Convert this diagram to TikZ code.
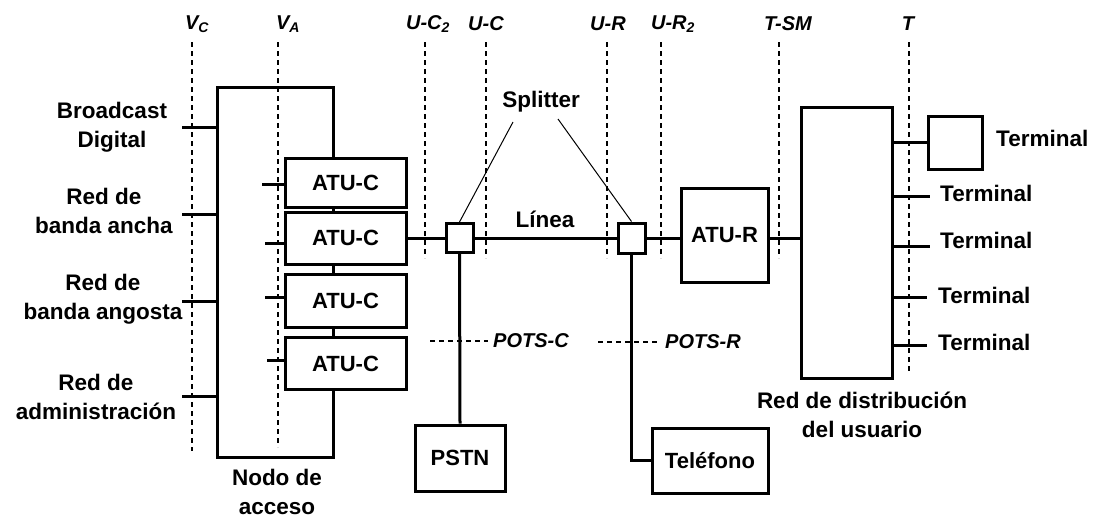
\documentclass[tikz,border=0pt]{standalone}
\usepackage{fontspec}
\setmainfont{Liberation Sans}
\begin{document}
\begin{tikzpicture}[x=1pt,y=-1pt,
  box/.style={draw, line width=3pt, fill=white, inner sep=0pt, font=\fontsize{22}{26}\selectfont\bfseries},
  frame/.style={draw, line width=3pt, inner sep=0pt},
  wire/.style={line width=3pt},
  refline/.style={line width=1.6pt, dash pattern=on 5pt off 4pt},
  lbl/.style={font=\fontsize{22.5}{29}\selectfont\bfseries, align=center, inner sep=0pt},
  ilbl/.style={font=\fontsize{20}{22}\selectfont\bfseries\itshape, inner sep=0pt},
  thinline/.style={line width=1pt}]
\useasboundingbox (0,0) rectangle (1105,520);
% reference points (dashed)
\foreach \x/\b in {192/451, 278/447, 425/258, 486/258, 607/258, 661/258, 779/258, 909/372}
  \draw[refline] (\x,42) -- (\x,\b);
\node[ilbl] (vc) at (197,24) {V\textsubscript{C}};
\node[ilbl] (va) at (288,24) {V\textsubscript{A}};
\node[ilbl] (uc2) at (428,24) {U-C\textsubscript{2}};
\node[ilbl] (uc) at (486,24) {U-C};
\node[ilbl] (ur) at (608,24) {U-R};
\node[ilbl] (ur2) at (673,24) {U-R\textsubscript{2}};
\node[ilbl] (tsm) at (788,24) {T-SM};
\node[ilbl] (tt) at (908,24) {T};
% access node
\node[frame, minimum width=116pt, minimum height=370pt] (nodo) at (275,272) {};
\node[lbl] (nodolbl) at (277,492) {Nodo de\\acceso};
% ATU-C boxes
\node[box, minimum width=121pt, minimum height=49pt] (atu1) at (345.5,182.5) {ATU-C};
\node[box, minimum width=121pt, minimum height=52pt] (atu2) at (345.5,238) {ATU-C};
\node[box, minimum width=121pt, minimum height=53pt] (atu3) at (345.5,300.5) {ATU-C};
\node[box, minimum width=121pt, minimum height=52pt] (atu4) at (345.5,363.5) {ATU-C};
\coordinate (s1) at (262,184);
\coordinate (s2) at (265,243);
\coordinate (s3) at (265,297);
\coordinate (s4) at (267,360);
\draw[wire] (s1) -- (s1 -| atu1.west);
\draw[wire] (s2) -- (s2 -| atu2.west);
\draw[wire] (s3) -- (s3 -| atu3.west);
\draw[wire] (s4) -- (s4 -| atu4.west);
% left inputs
\coordinate (l1) at (182,127);
\coordinate (l2) at (182,214);
\coordinate (l3) at (182,301);
\coordinate (l4) at (182,396);
\foreach \c in {l1,l2,l3,l4} \draw[wire] (\c) -- (\c -| nodo.west);
\node[lbl] (bd) at (112,127.5) {Broadcast\\Digital};
\node[lbl] (rba) at (104,210.5) {Red de\\banda ancha};
\node[lbl] (rbg) at (103,299.5) {Red de\\banda angosta};
\node[lbl] (radm) at (96,396.5) {Red de\\administración};
% splitters
\node[box, minimum width=27pt, minimum height=29pt] (splL) at (459.5,238) {};
\node[box, minimum width=27pt, minimum height=30pt] (splR) at (631.5,238) {};
\draw[wire] (atu2.east) -- (splL.west);
\draw[wire] (splL.east) -- (splR.west);
\node[lbl] (linea) at (545,219) {Línea};
\node[lbl] (spl) at (541,102) {Splitter};
\coordinate (spa) at (513,122);
\coordinate (spb) at (558,119);
\draw[thinline] (spa) -- (splL.north);
\draw[thinline] (spb) -- (splR.north);
% ATU-R
\node[box, minimum width=87pt, minimum height=94pt] (atur) at (724.5,235) {ATU-R};
\draw[wire] (splR.east) -- (splR.east -| atur.west);
% distribution network
\node[frame, minimum width=91pt, minimum height=271pt] (dist) at (846.5,242.5) {};
\draw[wire] (atur.east |- splR.east) -- (dist.west |- splR.east);
\node[lbl] (distlbl) at (862,415) {Red de distribución\\del usuario};
% terminals
\node[box, minimum width=54pt, minimum height=53pt] (term) at (955,142.5) {};
\draw[wire] (term.west -| dist.east) -- (term.west);
\node[lbl, anchor=west] (term0) at (996,138) {Terminal};
\coordinate (t1) at (930,196);
\coordinate (t2) at (930,246);
\coordinate (t3) at (927,297);
\coordinate (t4) at (927,345);
\foreach \c in {t1,t2,t3,t4} \draw[wire] (\c -| dist.east) -- (\c);
\node[lbl, anchor=west] (term1) at (940,193) {Terminal};
\node[lbl, anchor=west] (term2) at (940,240) {Terminal};
\node[lbl, anchor=west] (term3) at (938,295) {Terminal};
\node[lbl, anchor=west] (term4) at (938,342) {Terminal};
% POTS
\node[box, minimum width=90pt, minimum height=66pt] (pstn) at (460,458) {PSTN};
\node[box, minimum width=116pt, minimum height=65pt] (tel) at (710,460.5) {Teléfono};
\draw[wire] (splL.south) -- (pstn.north);
\draw[wire] (splR.south) |- (tel.west);
\node[ilbl, anchor=west] (potsc) at (493,341) {POTS-C};
\node[ilbl, anchor=west] (potsr) at (665,342) {POTS-R};
\coordinate (pc) at (430,341);
\coordinate (pr) at (598,342);
\draw[refline] (pc) -- ([xshift=-5pt]potsc.west);
\draw[refline] (pr) -- ([xshift=-8pt]potsr.west);
\end{tikzpicture}
\end{document}
